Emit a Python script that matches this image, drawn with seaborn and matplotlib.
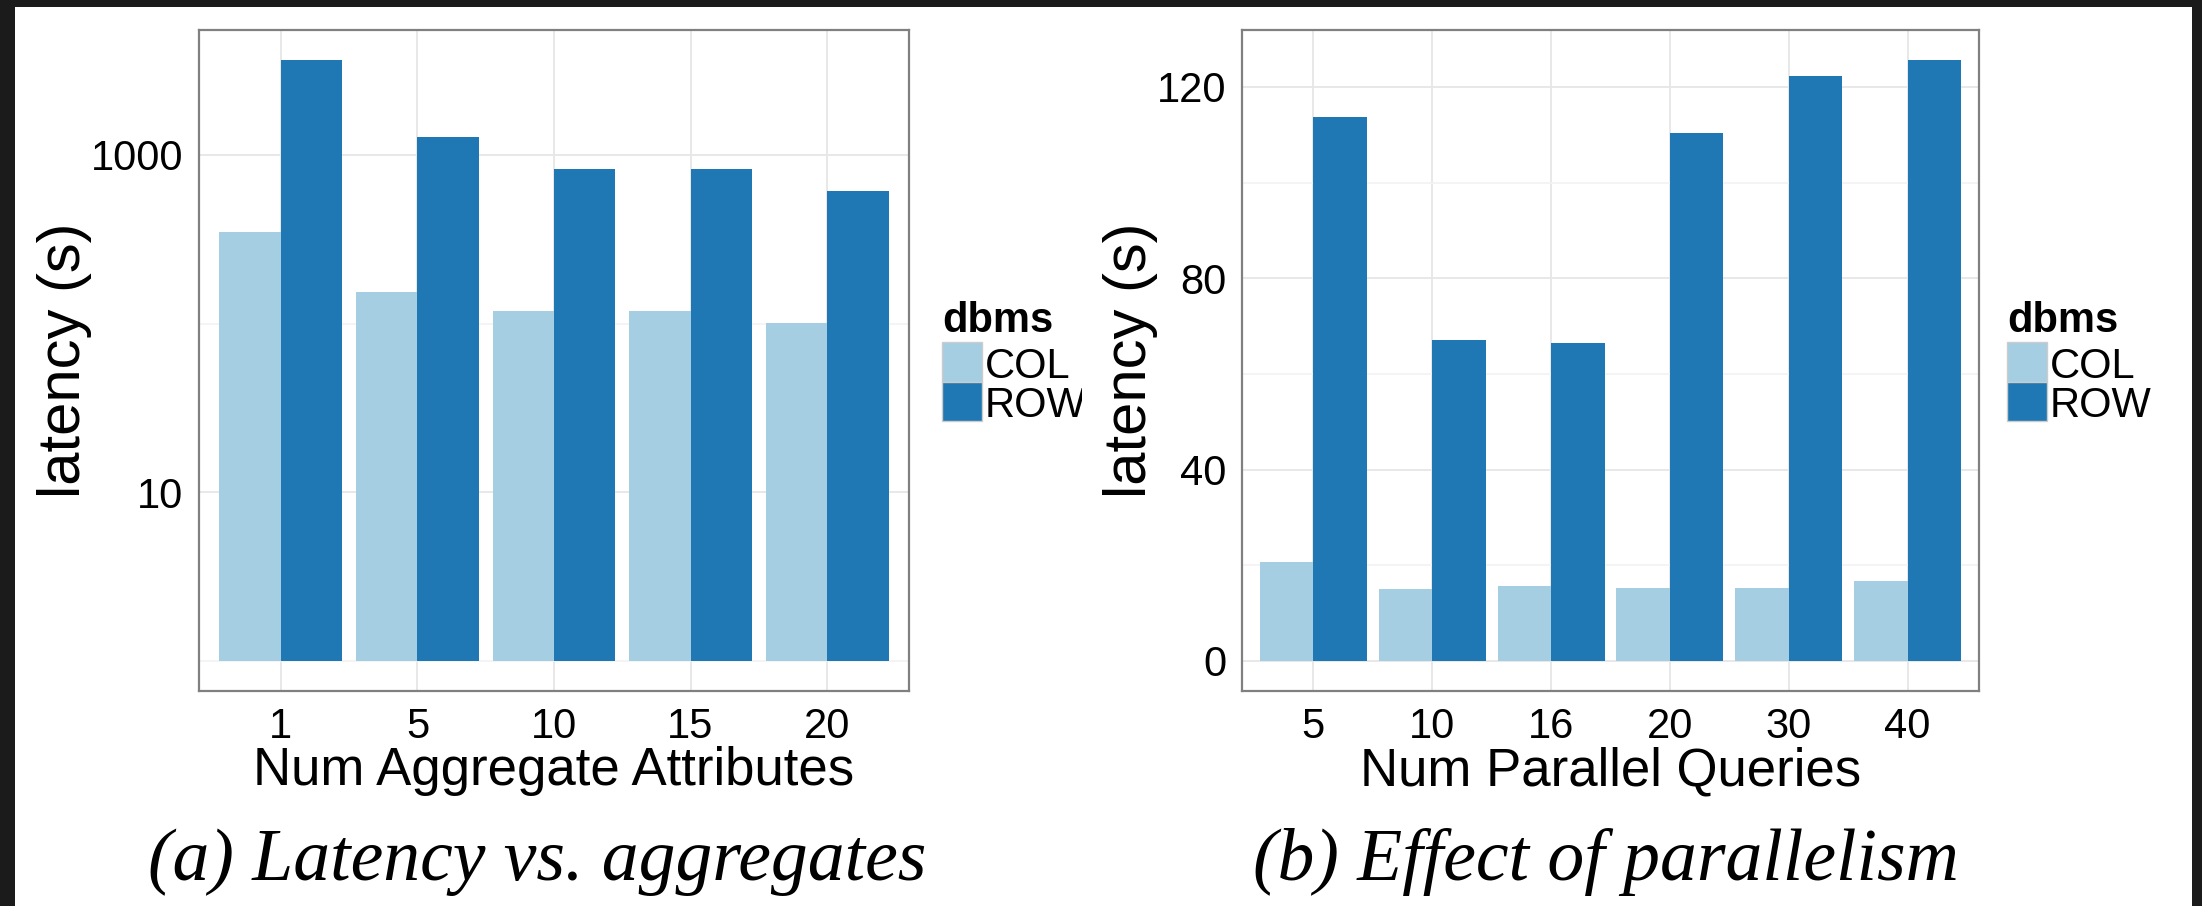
import numpy as np
import pandas as pd
import matplotlib
matplotlib.use("Agg")
import matplotlib.pyplot as plt
from matplotlib.patches import Rectangle
from matplotlib.transforms import Bbox, TransformedBbox
import seaborn as sns

# ---- data -------------------------------------------------------------
dbms_levels = ["COL", "ROW"]

agg_attrs = ["1", "5", "10", "15", "20"]
agg_col = [350, 154, 118, 118, 101]
agg_row = [3650, 1270, 820, 820, 608]

par_queries = ["5", "10", "16", "20", "30", "40"]
par_col = [20.6, 15.1, 15.6, 15.2, 15.2, 16.8]
par_row = [113.7, 67.1, 66.5, 110.3, 122.2, 125.6]

palette = {"COL": "#a6cee3", "ROW": "#1f78b4"}

df_agg = pd.DataFrame({
    "attrs": agg_attrs * 2,
    "dbms": ["COL"] * len(agg_attrs) + ["ROW"] * len(agg_attrs),
    "latency": agg_col + agg_row,
})
# log10 scale transform applied before drawing the bars (bars start at 1 s)
df_agg["log_latency"] = np.log10(df_agg["latency"])

df_par = pd.DataFrame({
    "queries": par_queries * 2,
    "dbms": ["COL"] * len(par_queries) + ["ROW"] * len(par_queries),
    "latency": par_col + par_row,
})

# ---- figure -----------------------------------------------------------
W, H = 2202, 906
sns.set_style("white")
plt.rcParams["font.family"] = ["Liberation Sans", "DejaVu Sans"]
plt.rcParams["text.color"] = "black"
plt.rcParams["axes.labelcolor"] = "black"
plt.rcParams["xtick.color"] = "#333333"
plt.rcParams["ytick.color"] = "#333333"

fig = plt.figure(figsize=(W / 100, H / 100), dpi=100, facecolor="#1b1b1b")


def fx(px):
    return px / W


def fy(py):
    return 1 - py / H


# white page area
fig.patches.append(Rectangle((fx(15), 0), fx(2192) - fx(15), 1 - 7 / H,
                             transform=fig.transFigure, facecolor="white",
                             edgecolor="none", zorder=-10))

ax1 = fig.add_axes([fx(199), fy(691), (909 - 199) / W, 661 / H])
ax2 = fig.add_axes([fx(1242), fy(691), (1979 - 1242) / W, 661 / H])

sns.barplot(data=df_agg, x="attrs", y="log_latency", hue="dbms",
            order=agg_attrs, hue_order=dbms_levels, palette=palette,
            width=0.9, gap=0, errorbar=None, saturation=1, legend=False,
            linewidth=0, ax=ax1)
sns.barplot(data=df_par, x="queries", y="latency", hue="dbms",
            order=par_queries, hue_order=dbms_levels, palette=palette,
            width=0.9, gap=0, errorbar=None, saturation=1, legend=False,
            linewidth=0, ax=ax2)

# y scales
m1 = df_agg["log_latency"].max()
ax1.set_ylim(-0.05 * m1, 1.05 * m1)
ax1.set_yticks([1, 3])
ax1.set_yticklabels(["10", "1000"])
ax1.set_yticks([0, 2], minor=True)

m2 = df_par["latency"].max()
ax2.set_ylim(-0.05 * m2, 1.05 * m2)
ax2.set_yticks([0, 40, 80, 120])
ax2.set_yticklabels(["0", "40", "80", "120"])
ax2.set_yticks([20, 60, 100], minor=True)

for ax, cats in ((ax1, agg_attrs), (ax2, par_queries)):
    ax.set_xlim(-0.6, len(cats) - 0.4)
    ax.set_facecolor("white")
    ax.set_axisbelow(True)
    ax.grid(True, which="major", color="#e6e6e6", linewidth=1.3)
    ax.grid(True, which="minor", axis="y", color="#f3f3f3", linewidth=1.3)
    for s in ax.spines.values():
        s.set_visible(True)
        s.set_color("#808080")
        s.set_linewidth(1.6)
    ax.tick_params(axis="both", which="major", length=6.5, width=1.2,
                   color="#333333", labelsize=30, labelcolor="black",
                   direction="out")
    ax.tick_params(axis="x", which="major", pad=5)
    ax.tick_params(axis="y", which="major", pad=5)
    ax.tick_params(which="minor", length=0)

ax1.set_xlabel("Num Aggregate Attributes", fontsize=38, color="black")
ax2.set_xlabel("Num Parallel Queries", fontsize=38, color="black")
for ax in (ax1, ax2):
    ax.set_ylabel("latency (s)", fontsize=43, color="black")
    ax.xaxis.label.set_va("baseline")
    ax.xaxis.set_label_coords(0.5, -94 / 661)
    ax.yaxis.label.set_va("center")
ax1.yaxis.set_label_coords((65 - 199) / 710, 0.5)
ax2.yaxis.set_label_coords((1130 - 1242) / 737, 0.5)

# ---- legends ----------------------------------------------------------
clip_left = TransformedBbox(Bbox([[0, 0], [fx(1082), 1]]), fig.transFigure)


def draw_legend(x0, clip=None):
    arts = []
    arts.append(fig.text(fx(x0), fy(332), "dbms", fontsize=30,
                         fontweight="bold", ha="left", va="baseline",
                         color="black"))
    tops = [342, 381.5]
    bases = [378, 417]
    for lvl, top, base in zip(dbms_levels, tops, bases):
        r = Rectangle((fx(x0), fy(top + 39.5)), 39.5 / W, 39.5 / H,
                      transform=fig.transFigure, facecolor=palette[lvl],
                      edgecolor="#cccccc", linewidth=1.0)
        fig.patches.append(r)
        arts.append(fig.text(fx(x0 + 43), fy(base), lvl, fontsize=30,
                             ha="left", va="baseline", color="black"))
    if clip is not None:
        for a in arts:
            a.set_clip_box(clip)
            a.set_clip_on(True)


draw_legend(942, clip=clip_left)
draw_legend(2007)

# ---- captions ---------------------------------------------------------
cap_kw = dict(fontsize=53, style="italic", ha="center", va="baseline",
              color="black", family=["Liberation Serif", "DejaVu Serif"])
fig.text(fx(537), fy(880), "(a) Latency vs. aggregates", **cap_kw)
fig.text(fx(1606), fy(880), "(b) Effect of parallelism", **cap_kw)

fig.savefig("out.png", dpi=100, facecolor=fig.get_facecolor())
